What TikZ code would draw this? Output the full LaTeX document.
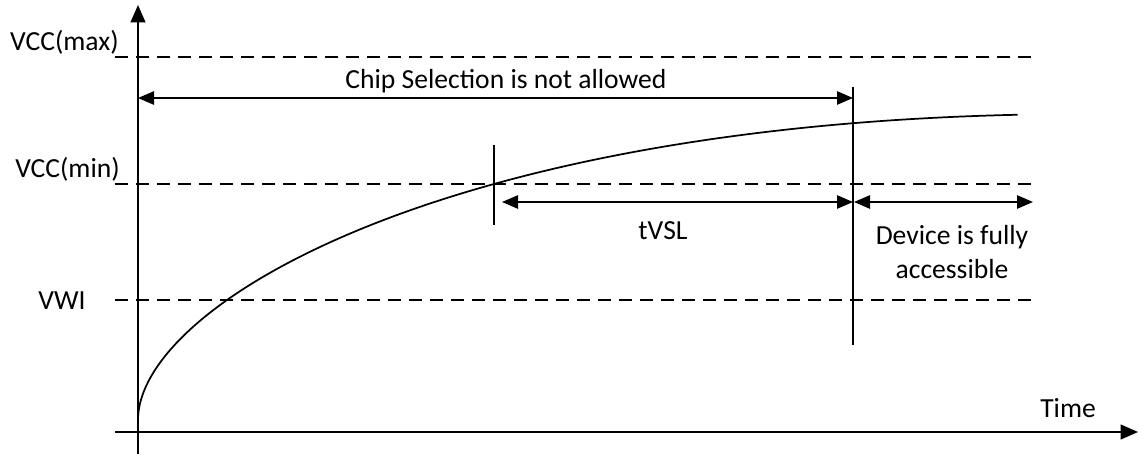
\documentclass[tikz,border=0pt]{standalone}
\usepackage{fontspec}
\setmainfont{Carlito}
\usetikzlibrary{arrows.meta}
\begin{document}
\begin{tikzpicture}[x=0.75pt,y=-0.75pt,font=\fontsize{20.7}{24.8}\selectfont,
	axis/.style={line width=1.6pt,-{Triangle[length=13pt,width=11pt]}},
	level/.style={line width=1.3pt,dash pattern=on 9.75pt off 6pt},
	span/.style={line width=1.2pt,{Triangle[length=12pt,width=10pt]}-{Triangle[length=12pt,width=10pt]}},
	bar/.style={line width=1.2pt},
	lbl/.style={inner sep=0pt}]
			\useasboundingbox (0,0) rectangle (1139,454);
			% axes
			\coordinate (o) at (138,454);
			\coordinate (top) at (138,5);
			\coordinate (xl) at (115,432);
			\coordinate (xr) at (1138,432);
			\draw[axis](o)--(top);
			\draw[axis](xl)--(xr);
			% levels
			\coordinate (maxl) at (115,57);
			\coordinate (maxr) at (1035,57);
			\coordinate (minl) at (115,184);
			\coordinate (minr) at (1035,184);
			\coordinate (vwil) at (115,300);
			\coordinate (vwir) at (1035,300);
			\draw[level](maxl)--(maxr);
			\draw[level](minl)--(minr);
			\draw[level](vwil)--(vwir);
			\node[lbl,anchor=base east](vmax) at (119,50){VCC(max)};
			\node[lbl,anchor=base east](vmin) at (120,177){VCC(min)};
			\node[lbl,anchor=base](vwi) at (62,309){VWI};
			% supply curve
			\draw[line width=1.3pt] plot[domain=0:29.66,samples=120,variable=\s] ({138+\s*\s},{420-(11.32*\s+0.2337*\s*\s-0.009056*\s*\s*\s)});
			% markers and spans
			\coordinate (ct) at (853,87);
			\coordinate (cb) at (853,345);
			\coordinate (tt) at (494,145);
			\coordinate (tb) at (494,225);
			\draw[bar](ct)--(cb);
			\draw[bar](tt)--(tb);
			\coordinate (cs) at (138,98);
			\coordinate (ce) at (853,98);
			\coordinate (ts) at (502,202);
			\coordinate (te) at (853,202);
			\coordinate (ds) at (854,202);
			\coordinate (de) at (1033,202);
			\draw[span](cs)--(ce);
			\draw[span](ts)--(te);
			\draw[span](ds)--(de);
			\node[lbl,anchor=base](chip) at (506,88){Chip Selection is not allowed};
			\node[lbl,anchor=base](tvsl) at (663,239){tVSL};
			\node[lbl,anchor=base,align=center](dev) at (952,278){Device is fully\\accessible};
			\node[lbl,anchor=base west](time) at (1040,417){Time};
		\end{tikzpicture}
\end{document}
